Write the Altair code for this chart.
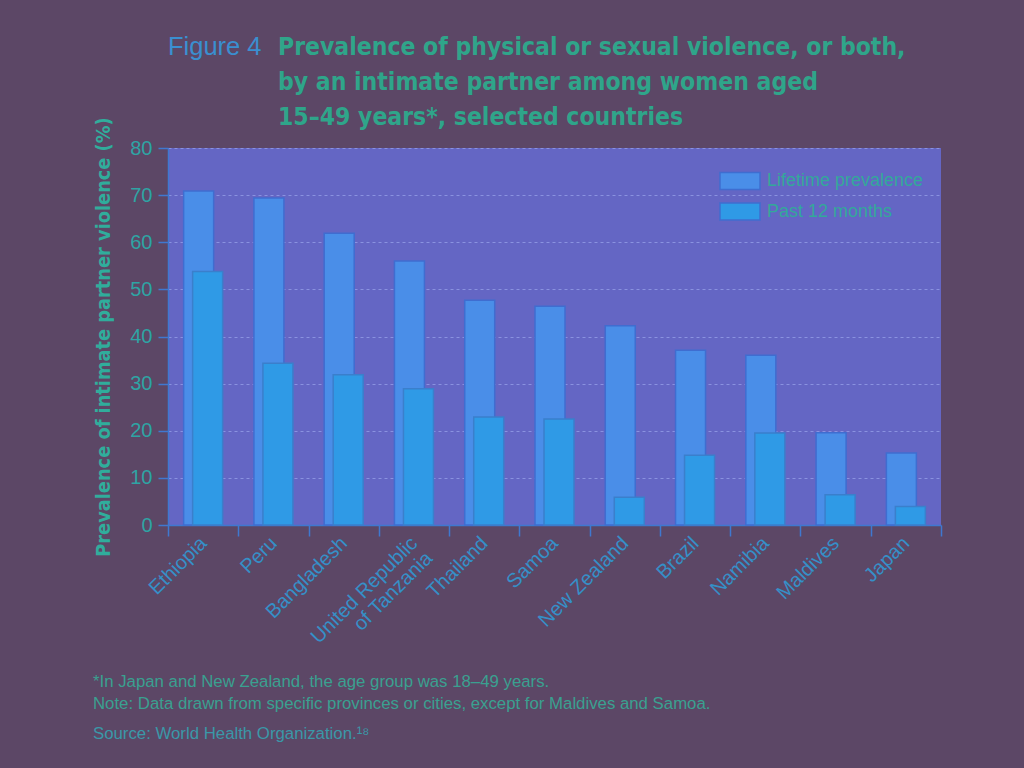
import altair as alt
import pandas as pd

countries = ["Ethiopia", "Peru", "Bangladesh", "United Republic of Tanzania", "Thailand",
             "Samoa", "New Zealand", "Brazil", "Namibia", "Maldives", "Japan"]
lifetime = [70.9, 69.4, 61.9, 56.0, 47.7, 46.4, 42.3, 37.1, 36.0, 19.6, 15.3]
past12 = [53.8, 34.3, 31.9, 28.9, 22.9, 22.5, 5.9, 14.8, 19.5, 6.4, 3.9]
series_names = ["Lifetime prevalence", "Past 12 months"]
y_ticks = [0, 10, 20, 30, 40, 50, 60, 70, 80]

title_fig = "Figure 4"
title_lines = ["Prevalence of physical or sexual violence, or both,",
               "by an intimate partner among women aged",
               "15\u201349 years*, selected countries"]
y_title = "Prevalence of intimate partner violence (%)"
note_lines = ["*In Japan and New Zealand, the age group was 18\u201349 years.",
              "Note: Data drawn from specific provinces or cities, except for Maldives and Samoa."]
source_line = "Source: World Health Organization.\u00b9\u2078"

NARROW = "'DejaVu Sans Condensed', 'Liberation Sans', sans-serif"
REG = "'Liberation Sans', Arial, sans-serif"

df = pd.DataFrame({
    "country": countries * 2,
    "series": [series_names[0]] * len(countries) + [series_names[1]] * len(countries),
    "value": lifetime + past12,
})

fill_colors = ["#4a8ee8", "#2f9ae6"]
stroke_colors = ["#3f6dd0", "#3a7fcc"]

x_enc = alt.X("country:N", sort=countries, title=None,
              scale=alt.Scale(paddingInner=0, paddingOuter=0),
              axis=alt.Axis(tickBand="extent", tickSize=11, tickColor="#3f78d0",
                            domainColor="#3f78d0", domainWidth=1.5, tickWidth=1.5,
                            labelAngle=315, labelAlign="right", labelBaseline="middle",
                            labelFont=REG, labelFontSize=20, labelColor="#3590c8",
                            labelPadding=4, labelLineHeight=21, labelLimit=400,
                            labelExpr="datum.value == 'United Republic of Tanzania' ? ['United Republic', 'of Tanzania'] : datum.value"))
y_enc = alt.Y("value:Q", title=y_title,
              scale=alt.Scale(domain=[0, 80], nice=False),
              axis=alt.Axis(values=y_ticks, tickSize=10, tickColor="#3f78d0", tickWidth=1.5,
                            domainColor="#3f78d0", domainWidth=1.5,
                            labelFont=REG, labelFontSize=20, labelColor="#2ea4a4", labelPadding=6,
                            grid=True, gridColor="#8a92e0", gridDash=[3, 3], gridWidth=1,
                            titleFont=NARROW, titleFontSize=19.8, titleFontWeight="bold",
                            titleColor="#30ad9c", titlePadding=16))
color_enc = alt.Color("series:N", scale=alt.Scale(domain=series_names, range=fill_colors),
                      legend=alt.Legend(title=None, orient="none", legendX=561, legendY=22,
                                        symbolType="M-2,-0.85H2V0.85H-2Z", symbolSize=400,
                                        symbolStrokeColor="#3f6dd0", symbolStrokeWidth=1.5,
                                        symbolOpacity=1, labelFont=REG, labelFontSize=18,
                                        labelColor="#33a89a", labelOffset=16, rowPadding=6.5,
                                        padding=0))

life = alt.Chart(df).transform_filter(alt.datum.series == series_names[0]).mark_bar(
    width=30, xOffset=-4.5, stroke=stroke_colors[0], strokeWidth=1.5, opacity=1
).encode(x=x_enc, y=y_enc, color=color_enc)

past = alt.Chart(df).transform_filter(alt.datum.series == series_names[1]).mark_bar(
    width=30, xOffset=4.5, stroke=stroke_colors[1], strokeWidth=1.5, opacity=1
).encode(x=x_enc, y=y_enc, color=color_enc)

one = pd.DataFrame({"k": [0]})
fig_txt = alt.Chart(one).mark_text(font=REG, fontSize=25.5, color="#3a8fd0", align="left",
                                   baseline="alphabetic").encode(
    x=alt.value(0), y=alt.value(-93.5), text=alt.value(title_fig))
title_txt = alt.Chart(one).mark_text(font=NARROW, fontSize=24.5, fontWeight="bold", color="#2fa58a",
                                     align="left", baseline="alphabetic", lineHeight=35).encode(
    x=alt.value(110), y=alt.value(-93.5), text=alt.value(title_lines))
note_txt = alt.Chart(one).mark_text(font=REG, fontSize=16.8, color="#3aa090", align="left",
                                    baseline="alphabetic", lineHeight=22.5).encode(
    x=alt.value(-75), y=alt.value(538.5), text=alt.value(note_lines))
src_txt = alt.Chart(one).mark_text(font=REG, fontSize=16.8, color="#3a98a8", align="left",
                                   baseline="alphabetic").encode(
    x=alt.value(-75), y=alt.value(591), text=alt.value(source_line))

chart = alt.layer(life, past, fig_txt, title_txt, note_txt, src_txt).properties(
    width=773, height=377,
    autosize=alt.AutoSizeParams(type="none"),
    padding={"left": 168, "top": 148, "right": 83, "bottom": 243},
    background="#5c4766",
).configure_view(fill="#6466c4", stroke=None)

chart.save("out.html", embed_options={"renderer": "svg", "actions": False})
